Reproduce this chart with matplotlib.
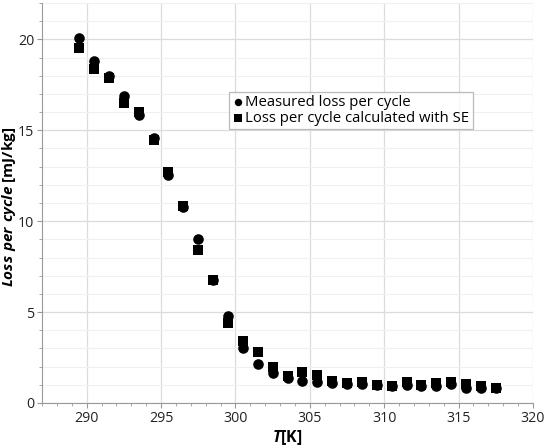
import numpy as np
import matplotlib as mpl
mpl.use('Agg')
from matplotlib import pyplot as plt
from matplotlib.ticker import MultipleLocator

# 数据
temp = [289.5, 290.5, 291.5, 292.5, 293.5, 294.5, 295.5, 296.5, 297.5, 298.5,
        299.5, 300.5, 301.5, 302.5, 303.5, 304.5, 305.5, 306.5, 307.5, 308.5,
        309.5, 310.5, 311.5, 312.5, 313.5, 314.5, 315.5, 316.5, 317.5]
loss_measured = [20.05, 18.8, 18.0, 16.9, 15.85, 14.6, 12.55, 10.8, 9.02, 6.78,
                 4.79, 3.05, 2.15, 1.63, 1.36, 1.21, 1.17, 1.12, 1.03, 1.03,
                 0.98, 0.95, 0.97, 0.95, 0.94, 1.03, 0.84, 0.83, 0.83]
loss_se = [19.55, 18.35, 17.85, 16.5, 16.0, 14.45, 12.72, 10.82, 8.39, 6.78,
           4.42, 3.42, 2.83, 2.0, 1.5, 1.69, 1.54, 1.23, 1.12, 1.14,
           0.99, 0.95, 1.16, 0.99, 1.08, 1.17, 1.05, 0.95, 0.83]

plt.rcParams['font.family'] = ['Open Sans', 'DejaVu Sans']
plt.rcParams['mathtext.fontset'] = 'custom'
plt.rcParams['mathtext.bfit'] = 'Open Sans:italic:bold'

fig = plt.figure(figsize=(5.45, 4.46), dpi=100)
ax = fig.add_axes([42 / 545, 43 / 446, 491 / 545, 400 / 446])

ax.scatter(temp, loss_measured, marker='o', s=58, color='black', linewidths=0,
           label='Measured loss per cycle', zorder=3)
ax.scatter(temp, loss_se, marker='s', s=52, color='black', linewidths=0,
           label='Loss per cycle calculated with SE', zorder=3)

ax.set_xlim(287, 320)
ax.set_ylim(0, 22)
ax.xaxis.set_major_locator(MultipleLocator(5))
ax.xaxis.set_minor_locator(MultipleLocator(1))
ax.yaxis.set_major_locator(MultipleLocator(5))
ax.yaxis.set_minor_locator(MultipleLocator(1))

ax.grid(which='major', color='#dcdcdc', lw=0.9)
ax.grid(which='minor', axis='y', color='#f0f0f0', lw=0.8)
ax.set_axisbelow(True)

for side in ['top', 'right']:
    ax.spines[side].set_visible(False)
for side in ['left', 'bottom']:
    ax.spines[side].set_color('#999999')
ax.tick_params(which='major', length=3.5, color='#999999', labelsize=10.2,
               labelcolor='#222222', pad=2)
ax.tick_params(which='minor', length=2.5, color='#999999')

ax.set_xlabel(r'$\mathbfit{T}$[K]', fontsize=11.5, fontweight='bold')
ax.set_ylabel(r'$\mathbfit{Loss\ per\ cycle}$ [mJ/kg]', fontsize=11,
              fontweight='bold')
ax.xaxis.set_label_coords(0.5, -0.062)
ax.yaxis.set_label_coords(-0.049, 0.49)

leg = ax.legend(loc='upper left', bbox_to_anchor=(0.381, 0.778), fontsize=10.7,
                frameon=True, fancybox=False, handletextpad=0.1,
                handlelength=0.8, borderpad=0.2, labelspacing=0.1,
                markerscale=0.7, borderaxespad=0)
leg.get_frame().set_edgecolor('#aaaaaa')
leg.get_frame().set_linewidth(0.9)

fig.savefig('out.png', dpi=100)
